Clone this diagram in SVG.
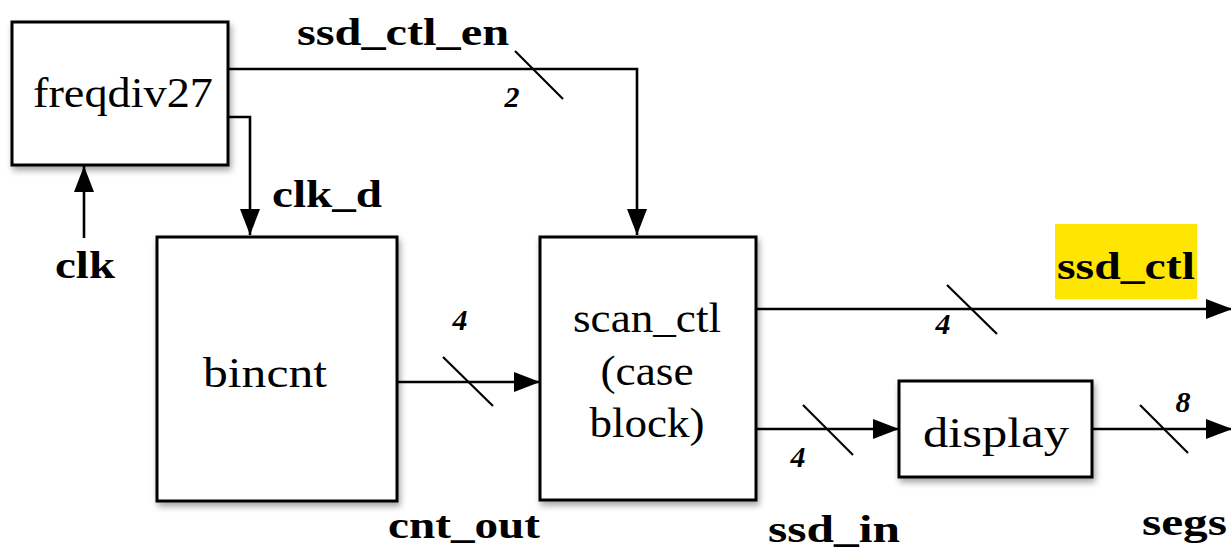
<svg xmlns="http://www.w3.org/2000/svg" width="1231" height="552" viewBox="0 0 1231 552">
<style>
.box{fill:#fff;stroke:#000;stroke-width:3;filter:url(#sh)}
.w{fill:none;stroke:#000;stroke-width:2.6}
.sl{fill:none;stroke:#000;stroke-width:2.2}
.nl{font-family:"Liberation Serif",serif;font-size:42px;fill:#000}
.lb{font-family:"Liberation Serif",serif;font-size:38px;font-weight:bold;fill:#000}
.num{font-family:"Liberation Serif",serif;font-size:30px;font-weight:bold;font-style:italic;fill:#000}
</style>
<defs>
<filter id="sh" x="-10%" y="-10%" width="130%" height="130%">
<feDropShadow dx="2" dy="4" stdDeviation="3" flood-color="#000" flood-opacity="0.35"/>
</filter>
<marker id="ah" markerUnits="userSpaceOnUse" markerWidth="28" markerHeight="22" refX="26" refY="10" orient="auto">
<path d="M0,0 L26,10 L0,20 Z" fill="#000"/>
</marker>
</defs>
<g id="connectors">
<path class="w" d="M228,69 H637 V235" marker-end="url(#ah)"/>
<line class="sl" x1="515" y1="51" x2="563" y2="99"/>
<path class="w" d="M228,117 H250 V235" marker-end="url(#ah)"/>
<path class="w" d="M84,238 V166" marker-end="url(#ah)"/>
<path class="w" d="M397,382 H540" marker-end="url(#ah)"/>
<line class="sl" x1="443" y1="357" x2="493" y2="406"/>
<path class="w" d="M756,309 H1232" marker-end="url(#ah)"/>
<line class="sl" x1="947" y1="285" x2="997" y2="334"/>
<path class="w" d="M756,429 H899" marker-end="url(#ah)"/>
<line class="sl" x1="803" y1="405" x2="853" y2="455"/>
<path class="w" d="M1092,429 H1232" marker-end="url(#ah)"/>
<line class="sl" x1="1140" y1="405" x2="1188" y2="453"/>
</g>
<g id="freqdiv27">
<rect class="box" x="12" y="22" width="216" height="143"/>
<text class="nl" x="33" y="107" textLength="180" lengthAdjust="spacingAndGlyphs">freqdiv27</text>
</g>
<g id="bincnt">
<rect class="box" x="157" y="237" width="240" height="264"/>
<text class="nl" x="203" y="387" textLength="124" lengthAdjust="spacingAndGlyphs">bincnt</text>
</g>
<g id="scan_ctl">
<rect class="box" x="540" y="237" width="216" height="263"/>
<text class="nl" x="647" y="332" text-anchor="middle" textLength="148" lengthAdjust="spacingAndGlyphs">scan_ctl</text>
<text class="nl" x="647" y="385" text-anchor="middle" textLength="93" lengthAdjust="spacingAndGlyphs">(case</text>
<text class="nl" x="647" y="437" text-anchor="middle" textLength="115" lengthAdjust="spacingAndGlyphs">block)</text>
</g>
<g id="display">
<rect class="box" x="899" y="381" width="193" height="96"/>
<text class="nl" x="923" y="447" textLength="146" lengthAdjust="spacingAndGlyphs">display</text>
</g>
<g id="labels">
<text class="lb" x="297" y="45" textLength="212" lengthAdjust="spacingAndGlyphs">ssd_ctl_en</text>
<text class="num" x="512" y="107" text-anchor="middle">2</text>
<text class="lb" x="272" y="207" textLength="110" lengthAdjust="spacingAndGlyphs">clk_d</text>
<text class="lb" x="55" y="278" textLength="60" lengthAdjust="spacingAndGlyphs">clk</text>
<text class="num" x="460" y="330" text-anchor="middle">4</text>
<text class="lb" x="388" y="538" textLength="152" lengthAdjust="spacingAndGlyphs">cnt_out</text>
<rect x="1055" y="224" width="142" height="75" fill="#ffe600"/>
<text class="lb" x="1057" y="279" font-size="42" textLength="138" lengthAdjust="spacingAndGlyphs">ssd_ctl</text>
<text class="num" x="943" y="334" text-anchor="middle">4</text>
<text class="num" x="798" y="467" text-anchor="middle">4</text>
<text class="lb" x="768" y="542" textLength="132" lengthAdjust="spacingAndGlyphs">ssd_in</text>
<text class="num" x="1183" y="412" text-anchor="middle">8</text>
<text class="lb" x="1142" y="535" textLength="85" lengthAdjust="spacingAndGlyphs">segs</text>
</g>
</svg>
